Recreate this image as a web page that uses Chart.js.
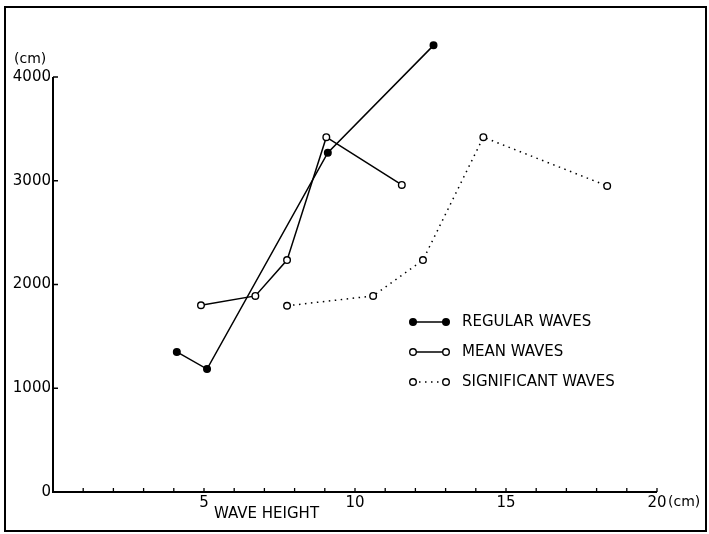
<!DOCTYPE html>
<html>
<head>
<meta charset="utf-8">
<script src="https://cdn.jsdelivr.net/npm/chart.js@4/dist/chart.umd.min.js"></script>
<style>
html,body{margin:0;padding:0;background:#fff;}
#wrap{width:709px;height:534px;position:relative;}
</style>
</head>
<body>
<div id="wrap"><canvas id="c" width="709" height="534"></canvas></div>
<script>
// ---- data ----
const seriesNames = ['REGULAR WAVES', 'MEAN WAVES', 'SIGNIFICANT WAVES'];
const regularX = [4.1, 5.1, 9.1, 12.6];
const regularY = [1350, 1185, 3270, 4305];
const meanX = [4.9, 6.7, 7.75, 9.05, 11.55];
const meanY = [1800, 1890, 2235, 3420, 2960];
const sigX = [7.75, 10.6, 12.25, 14.25, 18.35];
const sigY = [1795, 1890, 2235, 3420, 2950];
const xTickValues = [1,2,3,4,5,6,7,8,9,10,11,12,13,14,15,16,17,18,19,20];
const xTickLabels = {5: '5', 10: '10', 15: '15', 20: '20'};
const yTickValues = [0, 1000, 2000, 3000, 4000];
const xUnit = '(cm)';
const yUnit = '(cm)';
const xTitle = 'WAVE HEIGHT';

const FONT = '"DejaVu Sans", sans-serif';
const pts = (xs, ys) => xs.map((x, i) => ({x: x, y: ys[i]}));

const decor = {
  id: 'decor',
  afterDraw(chart) {
    const ctx = chart.ctx;
    const xs = chart.scales.x, ys = chart.scales.y;
    const x0 = xs.getPixelForValue(0), x20 = xs.getPixelForValue(20);
    const y0 = ys.getPixelForValue(0), y4 = ys.getPixelForValue(4000);
    ctx.save();
    ctx.strokeStyle = '#000';
    ctx.fillStyle = '#000';
    // frame
    ctx.lineWidth = 2;
    ctx.strokeRect(5, 7, 701, 524);
    // axes
    ctx.lineWidth = 2;
    ctx.beginPath();
    ctx.moveTo(x0, y4); ctx.lineTo(x0, y0); ctx.lineTo(x20, y0);
    ctx.stroke();
    // ticks (inward)
    ctx.lineWidth = 1.3;
    ctx.beginPath();
    xTickValues.forEach(v => {
      const px = xs.getPixelForValue(v);
      ctx.moveTo(px, y0); ctx.lineTo(px, y0 - 4);
    });
    yTickValues.forEach(v => {
      if (v === 0) return;
      const py = ys.getPixelForValue(v);
      ctx.moveTo(x0, py); ctx.lineTo(x0 + 5, py);
    });
    ctx.stroke();
    // units and titles
    ctx.font = '14px ' + FONT;
    ctx.textBaseline = 'middle';
    ctx.textAlign = 'left';
    ctx.fillText(yUnit, 14, 59);
    ctx.fillText(xUnit, x20 + 11, 502);
    ctx.font = '15px ' + FONT;
    ctx.fillText(xTitle, 214, 514);
    // legend
    const lx1 = 413, lx2 = 446, tx = 462;
    const rowsY = [322, 352, 382];
    chart.data.datasets.forEach((ds, i) => {
      const y = rowsY[i];
      ctx.lineWidth = ds.borderWidth;
      ctx.setLineDash(ds.borderDash || []);
      ctx.beginPath(); ctx.moveTo(lx1, y); ctx.lineTo(lx2, y); ctx.stroke();
      ctx.setLineDash([]);
      [lx1, lx2].forEach(px => {
        ctx.beginPath();
        ctx.arc(px, y, ds.pointRadius, 0, Math.PI * 2);
        ctx.fillStyle = ds.pointBackgroundColor;
        ctx.fill();
        ctx.lineWidth = ds.pointBorderWidth;
        ctx.stroke();
      });
      ctx.fillStyle = '#000';
      ctx.font = '15px ' + FONT;
      ctx.textAlign = 'left';
      ctx.textBaseline = 'middle';
      ctx.fillText(ds.label, tx, y);
    });
    ctx.restore();
  }
};

const common = {
  borderColor: '#000',
  borderWidth: 1.5,
  pointRadius: 3.3,
  pointBorderColor: '#000',
  pointBorderWidth: 1.4,
  pointHoverRadius: 3.3,
  tension: 0,
  fill: false,
  clip: false
};

new Chart(document.getElementById('c'), {
  type: 'line',
  data: {
    datasets: [
      Object.assign({label: seriesNames[0], data: pts(regularX, regularY), pointBackgroundColor: '#000'}, common),
      Object.assign({label: seriesNames[1], data: pts(meanX, meanY), pointBackgroundColor: '#fff'}, common),
      Object.assign({label: seriesNames[2], data: pts(sigX, sigY), pointBackgroundColor: '#fff', borderDash: [1.5, 4.5]}, common)
    ]
  },
  options: {
    responsive: false,
    animation: false,
    devicePixelRatio: 1,
    layout: {padding: {left: 0, top: 35.5, right: 52, bottom: 0}},
    plugins: {legend: {display: false}, tooltip: {enabled: false}},
    scales: {
      x: {
        type: 'linear', min: 0, max: 20,
        border: {display: false},
        grid: {display: false, drawTicks: false},
        afterBuildTicks: s => { s.ticks = xTickValues.map(v => ({value: v})); },
        ticks: {
          autoSkip: false, maxRotation: 0, padding: 2,
          color: '#000', font: {family: FONT, size: 15},
          callback: v => xTickLabels[v] || ''
        },
        afterFit: s => { s.height = 42; }
      },
      y: {
        type: 'linear', min: 0, max: 4400,
        border: {display: false},
        grid: {display: false, drawTicks: false},
        afterBuildTicks: s => { s.ticks = yTickValues.map(v => ({value: v})); },
        ticks: {
          autoSkip: false, padding: 2,
          color: '#000', font: {family: FONT, size: 15},
          callback: v => String(v)
        },
        afterFit: s => { s.width = 53; }
      }
    }
  },
  plugins: [decor]
});
</script>
</body>
</html>
